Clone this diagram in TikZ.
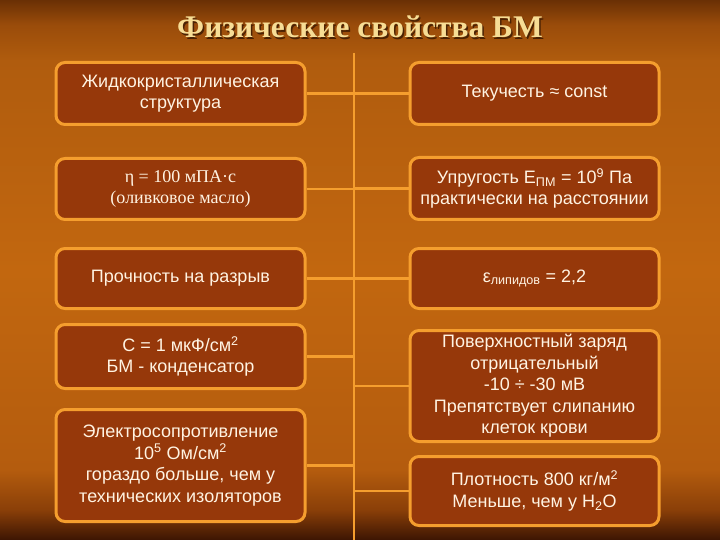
\documentclass[tikz,border=0pt]{standalone}
\usepackage{fontspec}
\setmainfont{Liberation Sans}
\newfontfamily\titlefont{Liberation Serif}
\usetikzlibrary{positioning}
\definecolor{bgtop}{HTML}{6A3005}
\definecolor{bgupper}{HTML}{9A4C0A}
\definecolor{bghigh}{HTML}{B05C0E}
\definecolor{bgmid}{HTML}{C2670F}
\definecolor{bglow}{HTML}{B45C0E}
\definecolor{bgdeep}{HTML}{8A3F08}
\definecolor{bgbottom}{HTML}{3C1503}
\definecolor{boxfill}{HTML}{96380A}
\definecolor{boxedge}{HTML}{F59E2E}
\definecolor{boxtext}{HTML}{FFF3E2}
\definecolor{titlecol}{HTML}{F7DD95}
\definecolor{titleshadow}{HTML}{4A2203}
\pgfdeclareverticalshading{slidebg}{100bp}{color(0bp)=(bgbottom); color(25bp)=(bgbottom); color(27.8bp)=(bgdeep); color(31.5bp)=(bglow); color(50bp)=(bgmid); color(69.4bp)=(bghigh); color(72.7bp)=(bgupper); color(75bp)=(bgtop); color(100bp)=(bgtop)}

\begin{document}
\begin{tikzpicture}[x=1pt,y=-1pt,
  infobox/.style={draw=boxedge,line width=3pt,rounded corners=9pt,fill=boxfill,text=boxtext,align=center,minimum width=249pt,inner sep=2pt,font=\fontsize{18}{21.5}\selectfont},
  link/.style={draw=boxedge,line width=2.5pt}]
\useasboundingbox (0,0) rectangle (720,540);
\shade[shading=slidebg] (0,0) rectangle (720,540);
% title
\node[text=titleshadow,font=\titlefont\bfseries\fontsize{31.5}{36}\selectfont] (titleshade) at (361.5,28.5) {Физические свойства БМ};
\node[text=titlecol,font=\titlefont\bfseries\fontsize{31.5}{36}\selectfont] (title) at (360,27) {Физические свойства БМ};
% spine
\coordinate (spinetop) at (354,53);
\coordinate (spinebot) at (354,540);
\draw[link] (spinetop)--(spinebot);
% left column
\node[infobox,minimum height=62pt] (lbox1) at (180.5,93.5) {Жидкокристаллическая\\структура};
\node[infobox,minimum height=61pt,font=\titlefont\fontsize{18}{21}\selectfont] (lbox2) at (180.5,189) {η = 100 мПА·с\\(оливковое масло)};
\node[infobox,minimum height=60pt] (lbox3) at (180.5,278.5) {Прочность на разрыв};
\node[infobox,minimum height=64pt] (lbox4) at (180.5,356.5) {С = 1 мкФ/см\textsuperscript{2}\\БМ - конденсатор};
\node[infobox,minimum height=112pt] (lbox5) at (180.5,465.5) {Электросопротивление\\10\textsuperscript{5} Ом/см\textsuperscript{2}\\гораздо больше, чем у\\технических изоляторов};
% right column
\node[infobox,minimum height=62pt] (rbox1) at (534.5,93.5) {Текучесть ≈ const};
\node[infobox,minimum height=62pt] (rbox2) at (534.5,188.5) {Упругость Е\textsubscript{ПМ} = 10\textsuperscript{9} Па\\практически на расстоянии};
\node[infobox,minimum height=60pt] (rbox3) at (534.5,278.5) {ε\textsubscript{липидов} = 2,2};
\node[infobox,minimum height=111pt] (rbox4) at (534.5,386) {Поверхностный заряд\\отрицательный\\-10 ÷ -30 мВ\\Препятствует слипанию\\клеток крови};
\node[infobox,minimum height=69pt] (rbox5) at (534.5,491) {Плотность 800 кг/м\textsuperscript{2}\\Меньше, чем у Н\textsubscript{2}О};
% links to the spine
\foreach \i in {1,...,5}{
  \draw[link] (lbox\i.east)--(lbox\i.east -| spinetop);
  \draw[link] (rbox\i.west)--(rbox\i.west -| spinetop);
}
\end{tikzpicture}
\end{document}
